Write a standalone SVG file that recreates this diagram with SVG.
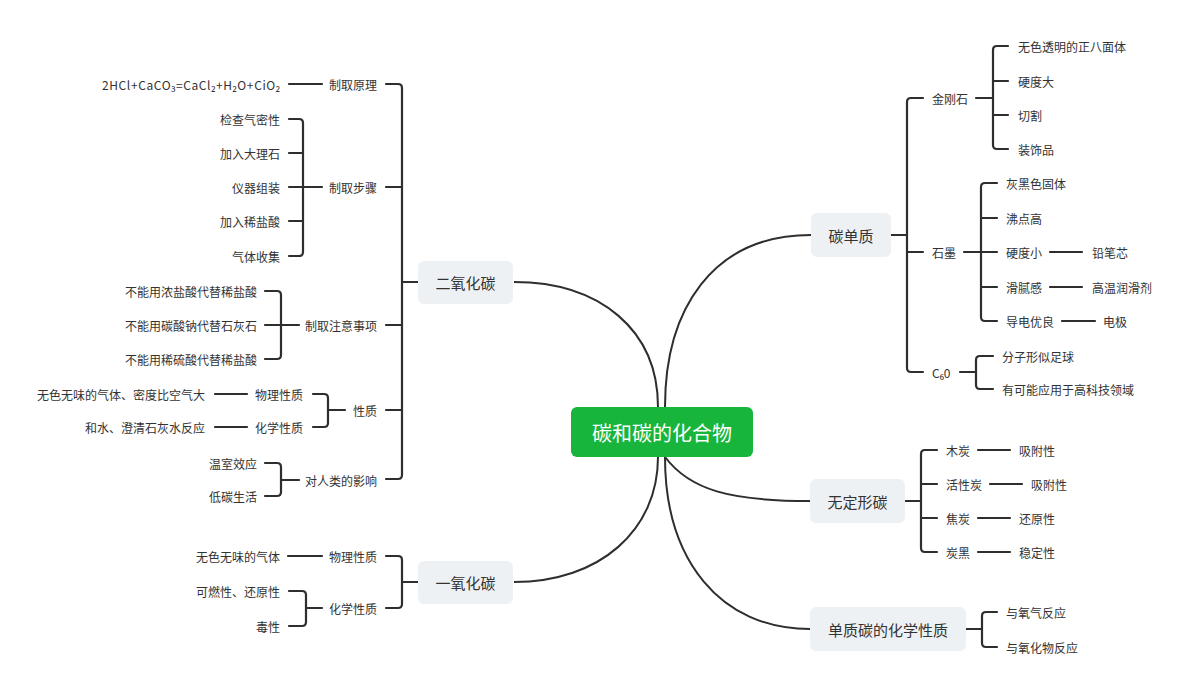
<svg xmlns="http://www.w3.org/2000/svg" width="1192" height="693" viewBox="0 0 1192 693">
<style>
text{font-family:"Noto Sans CJK SC","Noto Sans",sans-serif;fill:#333;dominant-baseline:central}
.l3{font-size:12px}
.l1{font-size:15px;text-anchor:middle}
.e{text-anchor:end}
.root{font-size:20px;fill:#fff;text-anchor:middle}
.box{fill:#EEF1F4}
.ln{fill:none;stroke:#2e2e2e;stroke-width:2.2;stroke-linecap:round;stroke-linejoin:round}
.cv{fill:none;stroke:#2e2e2e;stroke-width:2}
</style>
<rect width="1192" height="693" fill="#fff"/>
<g id="connectors">
<path class="cv" d="M658,407 C658,330 600,282 514,282"/>
<path class="cv" d="M665,407 C665,310 712,235 811,235"/>
<path class="cv" d="M658,457 C658,530 600,582 514,582"/>
<path class="cv" d="M665,457 C690,490 730,501 810,501"/>
<path class="cv" d="M665,457 C665,560 720,629 810,629"/>
<path class="ln" d="M386,84 H398 Q402,84 402,88 V475 Q402,479 398,479 H386 M386,187 H402 M386,325 H402 M386,410 H402 M402,282 H418"/>
<path class="ln" d="M289,84 H322"/>
<path class="ln" d="M289,119 H299 Q303,119 303,123 V252 Q303,256 299,256 H289 M289,153 H303 M289,187 H322 M289,221 H303"/>
<path class="ln" d="M265,291 H277 Q281,291 281,295 V355 Q281,359 277,359 H265 M265,325 H299"/>
<path class="ln" d="M313,394 H324 Q328,394 328,398 V423 Q328,427 324,427 H313 M328,410 H345 M215,394 H247 M215,427 H247"/>
<path class="ln" d="M265,463 H277 Q281,463 281,467 V492 Q281,496 277,496 H265 M281,480 H299"/>
<path class="ln" d="M386,556 H398 Q402,556 402,560 V604 Q402,608 398,608 H386 M402,582 H418 M288,556 H322"/>
<path class="ln" d="M289,591 H302 Q306,591 306,595 V622 Q306,626 302,626 H289 M306,608 H322"/>
<path class="ln" d="M923,98 H911 Q907,98 907,102 V368 Q907,372 911,372 H923 M907,252 H923 M891,235 H907"/>
<path class="ln" d="M976,98 H993 M1008,46 H997 Q993,46 993,50 V145 Q993,149 997,149 H1008 M993,81 H1008 M993,115 H1008"/>
<path class="ln" d="M964,252 H997 M997,183 H985 Q981,183 981,187 V317 Q981,321 985,321 H997 M981,218 H997 M981,287 H997"/>
<path class="ln" d="M1050,252 H1082 M1050,287 H1082 M1062,321 H1095"/>
<path class="ln" d="M960,372 H976 M993,356 H980 Q976,356 976,360 V385 Q976,389 980,389 H993"/>
<path class="ln" d="M905,501 H921 M937,450 H925 Q921,450 921,454 V548 Q921,552 925,552 H937 M921,484 H937 M921,518 H937"/>
<path class="ln" d="M978,450 H1010 M990,484 H1022 M978,518 H1010 M978,552 H1010"/>
<path class="ln" d="M966,629 H982 M997,612 H986 Q982,612 982,616 V643 Q982,647 986,647 H997"/>
</g>
<g id="root"><rect x="571" y="407" width="182" height="50" rx="6" fill="#17B53C"/><text class="root" x="662" y="432">碳和碳的化合物</text></g>
<g id="co2"><rect class="box" x="418" y="261" width="95" height="43" rx="6"/><text class="l1" x="465.5" y="282">二氧化碳</text></g>
<g id="co"><rect class="box" x="418" y="561" width="95" height="43" rx="6"/><text class="l1" x="465.5" y="582">一氧化碳</text></g>
<g id="c-simple"><rect class="box" x="811" y="213" width="80" height="44" rx="6"/><text class="l1" x="851" y="235">碳单质</text></g>
<g id="amorphous"><rect class="box" x="810" y="479" width="95" height="44" rx="6"/><text class="l1" x="857.5" y="501">无定形碳</text></g>
<g id="chem"><rect class="box" x="810" y="607" width="156" height="44" rx="6"/><text class="l1" x="888" y="629">单质碳的化学性质</text></g>
<g id="co2-children" class="l3">
<text class="e" x="377" y="84">制取原理</text>
<text x="102" y="84" textLength="178" lengthAdjust="spacing">2HCl+CaCO₃=CaCl₂+H₂O+CiO₂</text>
<text class="e" x="377" y="187">制取步骤</text>
<text class="e" x="280" y="119">检查气密性</text>
<text class="e" x="280" y="153">加入大理石</text>
<text class="e" x="280" y="187">仪器组装</text>
<text class="e" x="280" y="221">加入稀盐酸</text>
<text class="e" x="280" y="256">气体收集</text>
<text class="e" x="377" y="325">制取注意事项</text>
<text class="e" x="257" y="291">不能用浓盐酸代替稀盐酸</text>
<text class="e" x="257" y="325">不能用碳酸钠代替石灰石</text>
<text class="e" x="257" y="359">不能用稀硫酸代替稀盐酸</text>
<text class="e" x="377" y="410">性质</text>
<text class="e" x="303" y="394">物理性质</text>
<text class="e" x="303" y="427">化学性质</text>
<text class="e" x="205" y="394">无色无味的气体、密度比空气大</text>
<text class="e" x="205" y="427">和水、澄清石灰水反应</text>
<text class="e" x="377" y="480">对人类的影响</text>
<text class="e" x="257" y="463">温室效应</text>
<text class="e" x="257" y="496">低碳生活</text>
</g>
<g id="co-children" class="l3">
<text class="e" x="377" y="556">物理性质</text>
<text class="e" x="377" y="608">化学性质</text>
<text class="e" x="280" y="556">无色无味的气体</text>
<text class="e" x="280" y="591">可燃性、还原性</text>
<text class="e" x="280" y="626">毒性</text>
</g>
<g id="c-simple-children" class="l3">
<text x="932" y="98">金刚石</text>
<text x="1018" y="46">无色透明的正八面体</text>
<text x="1018" y="81">硬度大</text>
<text x="1018" y="115">切割</text>
<text x="1018" y="149">装饰品</text>
<text x="932" y="252">石墨</text>
<text x="1006" y="183">灰黑色固体</text>
<text x="1006" y="218">沸点高</text>
<text x="1006" y="252">硬度小</text>
<text x="1006" y="287">滑腻感</text>
<text x="1006" y="321">导电优良</text>
<text x="1092" y="252">铅笔芯</text>
<text x="1092" y="287">高温润滑剂</text>
<text x="1103" y="321">电极</text>
<text x="932" y="372">C₆0</text>
<text x="1002" y="356">分子形似足球</text>
<text x="1002" y="389">有可能应用于高科技领域</text>
</g>
<g id="amorphous-children" class="l3">
<text x="946" y="450">木炭</text>
<text x="946" y="484">活性炭</text>
<text x="946" y="518">焦炭</text>
<text x="946" y="552">炭黑</text>
<text x="1019" y="450">吸附性</text>
<text x="1031" y="484">吸附性</text>
<text x="1019" y="518">还原性</text>
<text x="1019" y="552">稳定性</text>
</g>
<g id="chem-children" class="l3">
<text x="1006" y="612">与氧气反应</text>
<text x="1006" y="647">与氧化物反应</text>
</g>
</svg>
